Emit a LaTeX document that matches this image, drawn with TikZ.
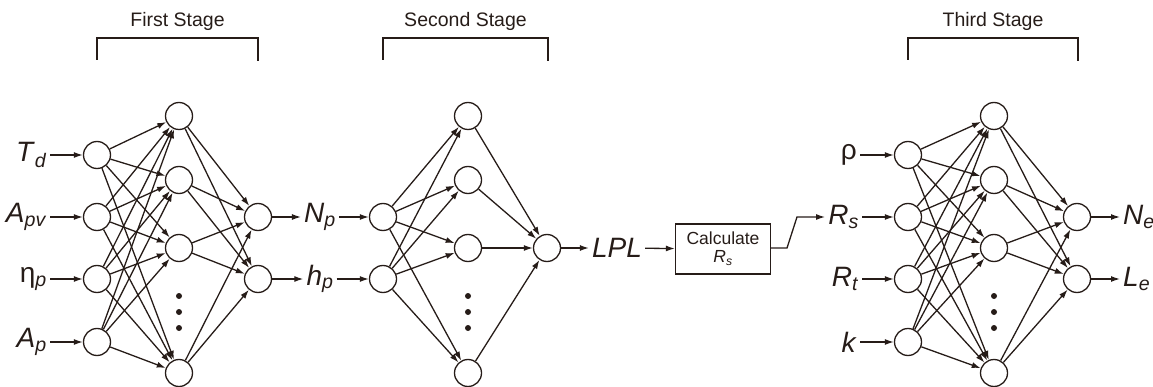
\documentclass[tikz,border=0pt]{standalone}
\usepackage{fontspec}
\setmainfont{Liberation Sans}
\usetikzlibrary{arrows.meta}
\definecolor{ink}{RGB}{38,28,24}
\newcommand{\var}[2]{\textit{#1}\textsubscript{\textit{#2}}}
\begin{document}
\begin{tikzpicture}[x=1pt,y=-1pt,
  ink lines/.style={draw=ink,line width=1.3pt},
  neuron/.style={circle,ink lines,fill=white,minimum size=27pt,inner sep=0pt},
  conn/.style={ink lines,-{Latex[length=9pt,width=6pt]}},
  varlabel/.style={text=ink,inner sep=3pt,font=\fontsize{28}{30}\selectfont},
  stagetitle/.style={text=ink,font=\fontsize{19.5}{22}\selectfont},
  procbox/.style={rectangle,ink lines,minimum width=95pt,minimum height=50pt,align=center,
    font=\fontsize{17.5}{20}\selectfont,text=ink},
  dot/.style={circle,fill=ink,inner sep=0pt,minimum size=6pt}]
\useasboundingbox (0,0) rectangle (1153,387);

% ---------- stage brackets ----------
\foreach \xa/\xb/\t in {97/258/First Stage, 383/548/Second Stage, 908/1078/Third Stage}{
  \draw[ink lines] (\xa,60) -- (\xa,38) -- (\xb,38) -- (\xb,61);
  \node[stagetitle] at ({(\xa+\xb)/2},21) {\t};
}

% ---------- first stage ----------
\foreach \i/\y in {1/155,2/217,3/279,4/342} \node[neuron] (f-in-\i) at (97,\y) {};
\foreach \i/\y in {1/116,2/180,3/248,4/373} \node[neuron] (f-hid-\i) at (179,\y) {};
\foreach \i/\y in {1/217,2/279} \node[neuron] (f-out-\i) at (258,\y) {};
\foreach \y in {296,312,328} \node[dot] at (179,\y) {};
\foreach \i in {1,...,4}{\foreach \j in {1,...,4} \draw[conn] (f-in-\i) -- (f-hid-\j);}
\foreach \i in {1,...,4}{\foreach \j in {1,2} \draw[conn] (f-hid-\i) -- (f-out-\j);}

\node[varlabel,anchor=east] (td)  at (50,155) {\var{T}{d}};
\node[varlabel,anchor=east] (apv) at (50,217) {\var{A}{pv}};
\node[varlabel,anchor=east] (eta) at (50,279) {η\textsubscript{\textit{p}}};
\node[varlabel,anchor=east] (ap)  at (50,342) {\var{A}{p}};
\draw[conn] (td)  -- (f-in-1);
\draw[conn] (apv) -- (f-in-2);
\draw[conn] (eta) -- (f-in-3);
\draw[conn] (ap)  -- (f-in-4);

% ---------- second stage ----------
\node[varlabel] (np) at (320,217) {\var{N}{p}};
\node[varlabel] (hp) at (320,279) {\var{h}{p}};
\draw[conn] (f-out-1) -- (np);
\draw[conn] (f-out-2) -- (hp);

\foreach \i/\y in {1/217,2/279} \node[neuron] (s-in-\i) at (383,\y) {};
\foreach \i/\y in {1/116,2/180,3/248,4/373} \node[neuron] (s-hid-\i) at (468,\y) {};
\node[neuron] (s-out) at (547,248) {};
\foreach \y in {296,312,328} \node[dot] at (468,\y) {};
\draw[conn] (np) -- (s-in-1);
\draw[conn] (hp) -- (s-in-2);
\foreach \i in {1,2}{\foreach \j in {1,...,4} \draw[conn] (s-in-\i) -- (s-hid-\j);}
\foreach \j in {1,...,4} \draw[conn] (s-hid-\j) -- (s-out);

\node[varlabel] (lpl) at (617,248) {\textit{LPL}};
\draw[conn] (s-out) -- (lpl);

\node[procbox] (calc) at (723,249) {Calculate\\[-2pt]\var{R}{s}};
\draw[conn] (lpl) -- (calc);

% ---------- third stage ----------
\foreach \i/\y in {1/155,2/217,3/279,4/342} \node[neuron] (t-in-\i) at (908,\y) {};
\foreach \i/\y in {1/116,2/180,3/248,4/373} \node[neuron] (t-hid-\i) at (994,\y) {};
\foreach \i/\y in {1/217,2/279} \node[neuron] (t-out-\i) at (1077,\y) {};
\foreach \y in {296,312,328} \node[dot] at (994,\y) {};
\foreach \i in {1,...,4}{\foreach \j in {1,...,4} \draw[conn] (t-in-\i) -- (t-hid-\j);}
\foreach \i in {1,...,4}{\foreach \j in {1,2} \draw[conn] (t-hid-\i) -- (t-out-\j);}

\node[varlabel,anchor=east] (rho) at (860,155) {ρ};
\node[varlabel,anchor=east] (rs)  at (862,217) {\var{R}{s}};
\node[varlabel,anchor=east] (rt)  at (862,279) {\var{R}{t}};
\node[varlabel,anchor=east] (kk)  at (860,342) {\textit{k}};
\draw[conn] (rho) -- (t-in-1);
\draw[conn] (rs)  -- (t-in-2);
\draw[conn] (rt)  -- (t-in-3);
\draw[conn] (kk)  -- (t-in-4);

\coordinate (bend-a) at (787,248);
\coordinate (bend-b) at (797,217);
\draw[conn] (calc.east |- bend-a) -- (bend-a) -- (bend-b) -- (rs.west);

\node[varlabel,anchor=west] (ne) at (1120,217) {\var{N}{e}};
\node[varlabel,anchor=west] (le) at (1120,279) {\var{L}{e}};
\draw[conn] (t-out-1) -- (ne);
\draw[conn] (t-out-2) -- (le);
\end{tikzpicture}
\end{document}
